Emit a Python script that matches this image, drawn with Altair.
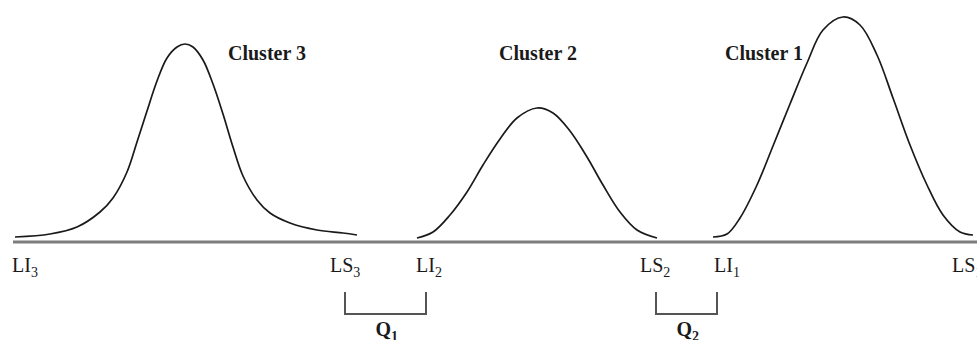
import altair as alt
import pandas as pd

# Cluster profiles: horizontal position and height above the axis
c3_x = [15, 50, 77, 100, 113, 127, 137, 147, 157, 167, 177, 185, 193, 203, 213, 223, 233, 243, 257, 270, 290, 317, 343, 357]
c3_h = [5, 8, 15, 30, 44, 70, 100, 131, 161, 184, 195, 198, 195, 182, 158, 128, 95, 66, 42, 29, 19, 12, 9, 7]

c2_x = [417, 433, 450, 467, 483, 500, 517, 537, 553, 570, 587, 603, 620, 637, 657]
c2_h = [4, 10, 27, 50, 77, 103, 124, 134, 129, 111, 85, 57, 30, 12, 4]

c1_x = [713, 727, 740, 757, 773, 790, 807, 823, 843, 860, 877, 893, 910, 927, 943, 960, 973]
c1_h = [5, 8, 24, 57, 96, 138, 179, 212, 225, 217, 187, 144, 97, 57, 27, 10, 7]

cluster_names = ["Cluster 3", "Cluster 2", "Cluster 1"]
cluster_label_x = [228, 499, 725]

# Lower / upper limits marked under the axis
limit_main = ["LI", "LS", "LI", "LS", "LI", "LS"]
limit_sub = ["3", "3", "2", "2", "1", "1"]
limit_x = [12, 330, 416, 640, 714, 952]

# Gaps between neighbouring clusters
gap_main = ["Q", "Q"]
gap_sub = ["1", "2"]
gap_left = [345, 656]
gap_right = [426, 717]

axis_start, axis_end = 13, 977

FONT = "Liberation Serif"
INK = "#1a1a1a"
MAIN_SIZE = 20
SUB_SIZE = 14

# Times-compatible advance widths (em) for the glyphs used in the labels
REG_W = {"L": 0.611, "I": 0.333, "S": 0.556}
BOLD_W = {"Q": 0.778}


def text_width(s, table, size):
    return sum(table[ch] for ch in s) * size


curves = pd.DataFrame(
    [{"cluster": "3", "x": x, "h": h} for x, h in zip(c3_x, c3_h)]
    + [{"cluster": "2", "x": x, "h": h} for x, h in zip(c2_x, c2_h)]
    + [{"cluster": "1", "x": x, "h": h} for x, h in zip(c1_x, c1_h)]
)

label_y, sub_drop = -30, 5
limits_main = pd.DataFrame({"x": limit_x, "h": [label_y] * 6, "t": limit_main})
limits_sub = pd.DataFrame({
    "x": [x + text_width(m, REG_W, MAIN_SIZE) for x, m in zip(limit_x, limit_main)],
    "h": [label_y - sub_drop] * 6,
    "t": limit_sub,
})

clusters = pd.DataFrame({"x": cluster_label_x, "h": [182] * 3, "t": cluster_names})

bracket_top, bracket_bottom = -51, -72
brackets = pd.DataFrame(
    [
        row
        for i, (l, r) in enumerate(zip(gap_left, gap_right))
        for row in (
            {"g": i, "o": 0, "x": l, "h": bracket_top},
            {"g": i, "o": 1, "x": l, "h": bracket_bottom},
            {"g": i, "o": 2, "x": r, "h": bracket_bottom},
            {"g": i, "o": 3, "x": r, "h": bracket_top},
        )
    ]
)

gap_x = [(l + r) / 2 - 10 for l, r in zip(gap_left, gap_right)]
gaps_main = pd.DataFrame({"x": gap_x, "h": [-94, -94], "t": gap_main})
gaps_sub = pd.DataFrame({
    "x": [x + text_width(m, BOLD_W, MAIN_SIZE) for x, m in zip(gap_x, gap_main)],
    "h": [-99, -99],
    "t": gap_sub,
})

axis_df = pd.DataFrame({"x": [axis_start], "x2": [axis_end], "h": [0]})

X = alt.X("x:Q", scale=alt.Scale(domain=[0, 977], nice=False, zero=False), axis=None)
Y = alt.Y("h:Q", scale=alt.Scale(domain=[-98, 242], nice=False, zero=False), axis=None)

axis_line = alt.Chart(axis_df).mark_rule(color="#7d7d7d", strokeWidth=3).encode(
    x=X, x2="x2:Q", y=Y
)

curve_lines = alt.Chart(curves).mark_line(
    color=INK, strokeWidth=1.7, interpolate="catmull-rom"
).encode(x=X, y=Y, detail="cluster:N")

bracket_lines = alt.Chart(brackets).mark_line(
    color="#555555", strokeWidth=2, strokeCap="square"
).encode(x=X, y=Y, detail="g:N", order="o:Q")


def text_layer(df, size, weight):
    return alt.Chart(df).mark_text(
        align="left", baseline="alphabetic", font=FONT,
        fontSize=size, fontWeight=weight, color=INK,
    ).encode(x=X, y=Y, text="t:N")


chart = alt.layer(
    axis_line,
    curve_lines,
    bracket_lines,
    text_layer(clusters, MAIN_SIZE, "bold"),
    text_layer(limits_main, MAIN_SIZE, "normal"),
    text_layer(limits_sub, SUB_SIZE, "normal"),
    text_layer(gaps_main, MAIN_SIZE, "bold"),
    text_layer(gaps_sub, SUB_SIZE, "bold"),
).properties(
    width=977, height=340, padding=0, autosize=alt.AutoSizeParams(type="none"),
    background="white",
).configure_view(stroke=None)

chart.save("out.html", embed_options={"renderer": "svg", "actions": False})
